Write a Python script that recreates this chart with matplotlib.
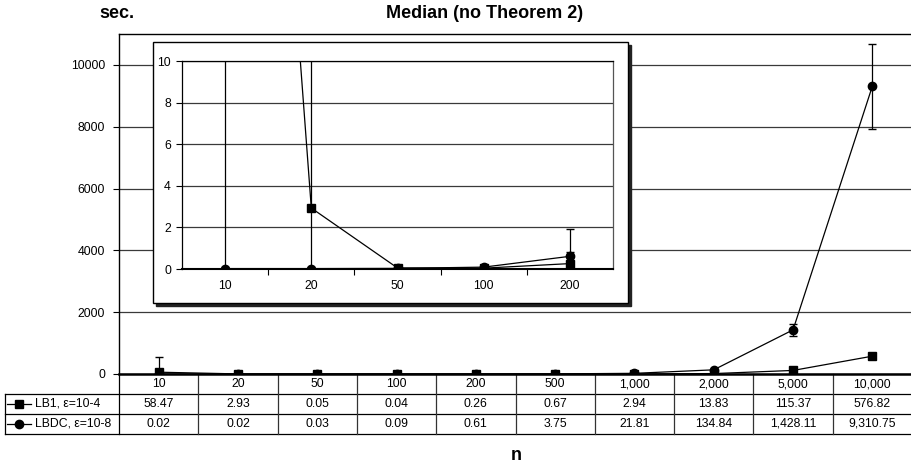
import matplotlib
matplotlib.use("Agg")
import matplotlib.pyplot as plt
from matplotlib.patches import Rectangle

plt.rcParams['font.family'] = ['Liberation Sans', 'DejaVu Sans']

# data
n_labels = ["10", "20", "50", "100", "200", "500", "1,000", "2,000", "5,000", "10,000"]
lb1 = [58.47, 2.93, 0.05, 0.04, 0.26, 0.67, 2.94, 13.83, 115.37, 576.82]
lbdc = [0.02, 0.02, 0.03, 0.09, 0.61, 3.75, 21.81, 134.84, 1428.11, 9310.75]
lb1_txt = ["58.47", "2.93", "0.05", "0.04", "0.26", "0.67", "2.94", "13.83", "115.37", "576.82"]
lbdc_txt = ["0.02", "0.02", "0.03", "0.09", "0.61", "3.75", "21.81", "134.84", "1,428.11", "9,310.75"]
# error bar half-widths
lb1_err = [500, 15, 0.02, 0.02, 0.55, 0.5, 2, 8, 40, 100]
lbdc_err = [0.01, 0.01, 0.01, 0.05, 1.3, 2, 10, 40, 200, 1380]
series_names = ["LB1, \u03b5=10-4", "LBDC, \u03b5=10-8"]

W, H = 911, 466
fig = plt.figure(figsize=(W / 100, H / 100), dpi=100)

def fx(px):
    return px / W

def fy(py):
    return 1 - py / H

grid_c = "#3a3a3a"
fs = 8.8

# -----------------------------
# main axes
# -----------------------------
ax = fig.add_axes([fx(119), fy(374), fx(912) - fx(119), fy(34) - fy(374)])
x = list(range(len(n_labels)))
ax.set_xlim(-0.5, len(n_labels) - 0.5)
ax.set_ylim(0, 11000)
ax.set_yticks([0, 2000, 4000, 6000, 8000, 10000])
ax.yaxis.grid(True, color=grid_c, lw=0.9)
ax.set_axisbelow(True)
ax.tick_params(axis="y", length=4, width=0.8, labelsize=fs, pad=6)
ax.set_xticks(x)
ax.set_xticklabels(n_labels, fontsize=fs)
ax.tick_params(axis="x", length=0, pad=3)
ax.spines["right"].set_visible(False)
ax.spines["bottom"].set_linewidth(1.8)
ax.spines["left"].set_linewidth(1.0)
ax.spines["top"].set_linewidth(1.0)

ax.errorbar(x, lb1, yerr=lb1_err, color="black", lw=0.9, marker="s", ms=6,
            capsize=3, elinewidth=0.9, clip_on=True)
ax.errorbar(x, lbdc, yerr=lbdc_err, color="black", lw=0.9, marker="o", ms=6,
            capsize=3, elinewidth=0.9, clip_on=True)

# table under the axis
tr = ax.get_xaxis_transform()
h_ax = 374 - 34
r1 = -20 / h_ax
r2 = -40 / h_ax
r3 = -60 / h_ax
left_col = -0.5 - 114 / 79.3
for yy in (r1, r2, r3):
    ax.plot([left_col, 9.5], [yy, yy], transform=tr, color="black", lw=0.9, clip_on=False)
ax.plot([left_col, left_col], [r1, r3], transform=tr, color="black", lw=0.9, clip_on=False)
ax.plot([-0.5, -0.5], [0, r3], transform=tr, color="black", lw=0.9, clip_on=False)
for b in range(1, len(n_labels)):
    ax.plot([b - 0.5, b - 0.5], [0, r3], transform=tr, color="#333333", lw=0.9, clip_on=False)

for i in x:
    ax.text(i, (r1 + r2) / 2, lb1_txt[i], transform=tr, ha="center", va="center", fontsize=fs)
    ax.text(i, (r2 + r3) / 2, lbdc_txt[i], transform=tr, ha="center", va="center", fontsize=fs)

# legend keys in the table
for yy, mk, name in ((r1, "s", series_names[0]), (r2, "o", series_names[1])):
    yc = yy - 10 / h_ax
    ax.plot([left_col + 0.03, left_col + 0.33], [yc, yc], transform=tr, color="black",
            lw=0.9, clip_on=False)
    ax.plot([left_col + 0.18], [yc], transform=tr, color="black", marker=mk, ms=6,
            clip_on=False)
    ax.text(left_col + 0.38, yc, name, transform=tr, ha="left", va="center", fontsize=fs)

# -----------------------------
# inset
# -----------------------------
fig.patches.append(Rectangle((fx(156), fy(306)), fx(628) - fx(153), fy(42) - fy(303),
                             transform=fig.transFigure, facecolor="#222222",
                             edgecolor="#222222", lw=1, zorder=2))
fig.patches.append(Rectangle((fx(153), fy(303)), fx(628) - fx(153), fy(42) - fy(303),
                             transform=fig.transFigure, facecolor="white",
                             edgecolor="black", lw=1, zorder=2.5))

k = 5
ins = fig.add_axes([fx(182), fy(269), fx(613) - fx(182), fy(61) - fy(269)], zorder=3)
ins.set_xlim(-0.5, k - 0.5)
ins.set_ylim(0, 10)
ins.set_yticks([0, 2, 4, 6, 8, 10])
ins.yaxis.grid(True, color=grid_c, lw=0.9)
ins.set_axisbelow(True)
ins.tick_params(axis="y", length=4, width=0.8, labelsize=fs, pad=4)
ins.set_xticks([b + 0.5 for b in range(k - 1)], minor=False)
ins.set_xticklabels([])
ins.set_xticks(range(k), minor=True)
ins.set_xticklabels(n_labels[:k], minor=True, fontsize=fs)
ins.tick_params(axis="x", which="major", length=4, width=0.8)
ins.tick_params(axis="x", which="minor", length=0, pad=8)
for s in ins.spines.values():
    s.set_linewidth(0.9)
ins.spines["right"].set_color("#555555")
ins.spines["bottom"].set_linewidth(1.5)

xi = list(range(k))
ins.errorbar(xi, lb1[:k], yerr=lb1_err[:k], color="black", lw=0.9, marker="s", ms=6,
             capsize=3, elinewidth=0.9)
ins.errorbar(xi, lbdc[:k], yerr=lbdc_err[:k], color="black", lw=0.9, marker="o", ms=6,
             capsize=3, elinewidth=0.9)

# -----------------------------
# titles
# -----------------------------
fig.text(fx(485), fy(13), "Median (no Theorem 2)", ha="center", va="center",
         fontsize=13, fontweight="bold")
fig.text(fx(117), fy(13), "sec.", ha="center", va="center", fontsize=13, fontweight="bold")
fig.text(fx(516), fy(455), "n", ha="center", va="center", fontsize=13, fontweight="bold")

fig.savefig("out.png", dpi=100)
